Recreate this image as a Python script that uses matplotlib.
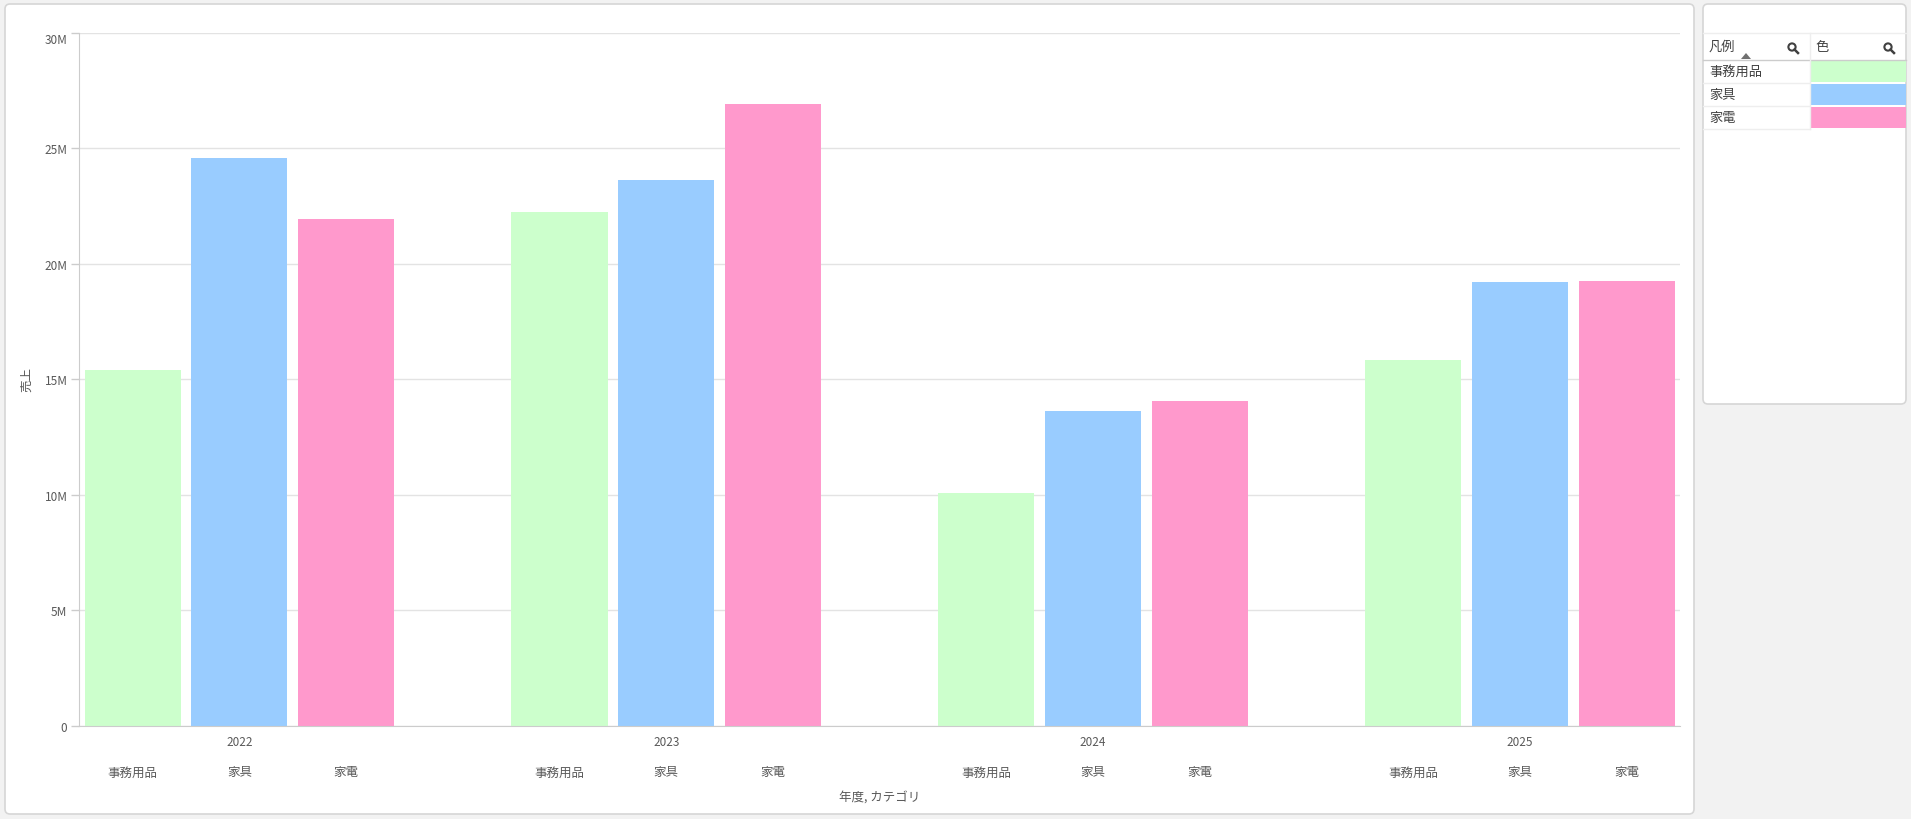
import numpy as np
import matplotlib
matplotlib.use("Agg")
import matplotlib.pyplot as plt
from matplotlib.patches import FancyBboxPatch, Rectangle, Circle, Polygon
from matplotlib.lines import Line2D

plt.rcParams['font.family'] = ['Noto Sans CJK JP', 'DejaVu Sans']

years = ['2022', '2023', '2024', '2025']
categories = ['事務用品', '家具', '家電']
colors = ['#ccffcc', '#99ccff', '#ff99cc']
# 売上 (yen) per year, one list per category
sales = {
    '事務用品': [15.38e6, 22.24e6, 10.09e6, 15.83e6],
    '家具': [24.56e6, 23.61e6, 13.62e6, 19.21e6],
    '家電': [21.93e6, 26.90e6, 14.04e6, 19.24e6],
}
yticks = [0, 5e6, 10e6, 15e6, 20e6, 25e6, 30e6]
ytick_labels = ['0', '5M', '10M', '15M', '20M', '25M', '30M']

W, H = 1911, 820
fig = plt.figure(figsize=(W / 100, H / 100), dpi=100, facecolor='#f2f2f2')


def fx(x):
    return x / W


def fy(y):
    return 1 - y / H


def panel(x0, y0, x1, y1):
    p = FancyBboxPatch((x0, H - y1), x1 - x0, y1 - y0,
                       boxstyle="round,pad=0,rounding_size=5",
                       transform=None, facecolor='white', edgecolor='#d6d6d6',
                       linewidth=1.2, zorder=-5)
    fig.patches.append(p)


panel(5, 5, 1694, 815)
panel(1703, 5, 1906, 405)

ax_l, ax_r, ax_t, ax_b = 79.3, 1680, 33.7, 726.7
ax = fig.add_axes([fx(ax_l), fy(ax_b), fx(ax_r - ax_l), (ax_b - ax_t) / H])
ax.set_facecolor('none')
ax.set_zorder(1)

nslot = len(years) * 4 - 1
for c, cat in enumerate(categories):
    xs = [g * 4 + c + 0.5 for g in range(len(years))]
    ax.bar(xs, sales[cat], width=0.9, color=colors[c], zorder=2)

ax.set_xlim(0, nslot)
ax.set_ylim(0, 30e6)
ax.set_yticks(yticks, ytick_labels)
ax.get_yticklabels()[-1].set_va('top')
ax.grid(axis='y', color='#e3e3e3', linewidth=1, zorder=0)
ax.set_axisbelow(True)
ax.set_xticks([])
for s in ['top', 'right']:
    ax.spines[s].set_visible(False)
ax.spines['left'].set_color('#cccccc')
ax.spines['bottom'].set_color('#cccccc')
ax.tick_params(axis='y', length=5.5, width=1, color='#cccccc', pad=3,
               labelsize=8.5, labelcolor='#595959')

tr = ax.get_xaxis_transform()
hpx = ax_b - ax_t
for g, yr in enumerate(years):
    ax.text(g * 4 + 1.5, -(743 - ax_b) / hpx, yr, transform=tr, clip_on=False,
            ha='center', va='center', fontsize=8.5, color='#595959')
    for c, cat in enumerate(categories):
        ax.text(g * 4 + c + 0.5, -(773 - ax_b) / hpx, cat, transform=tr, clip_on=False,
                ha='center', va='center', fontsize=9, color='#595959')

fig.text(fx((ax_l + ax_r) / 2), fy(797), '年度, カテゴリ', ha='center', va='center',
         fontsize=9, color='#595959')
fig.text(fx(27), fy(380), '売上', rotation=90, ha='center', va='center',
         fontsize=9, color='#595959')

# legend table
lx0, lx1, lmid = 1703, 1906, 1810
fig.add_artist(Line2D([fx(lx0), fx(lx1)], [fy(34.3), fy(34.3)], color='#eeeeee', lw=1))
fig.add_artist(Line2D([fx(lx0), fx(lx1)], [fy(61.3), fy(61.3)], color='#cccccc', lw=1))
fig.add_artist(Line2D([fx(lmid), fx(lmid)], [fy(34.3), fy(130)], color='#eeeeee', lw=1))
fig.text(fx(1709), fy(47), '凡例', ha='left', va='center', fontsize=9.5, color='#404040')
fig.text(fx(1815), fy(47), '色', ha='left', va='center', fontsize=9.5, color='#404040')
fig.patches.append(Polygon([[1741, H - 60], [1751, H - 60], [1746, H - 54]], closed=True,
                           transform=None, facecolor='#707070', edgecolor='none'))
for mx in [1792, 1888]:
    fig.patches.append(Circle((mx, H - 48), 3.6, transform=None, facecolor='none',
                              edgecolor='#404040', linewidth=1.5))
    fig.add_artist(Line2D([mx + 2.5, mx + 6], [H - 50.5, H - 54], transform=None,
                          color='#404040', lw=1.8))

row_top = 61.3
row_h = 23
for i, cat in enumerate(categories):
    y0 = row_top + i * row_h
    y1 = y0 + row_h
    fig.text(fx(1709), fy(y0 + row_h / 2), cat, ha='left', va='center',
             fontsize=9.5, color='#404040')
    fig.patches.append(Rectangle((lmid + 1, H - y1 + 1), lx1 - lmid - 1, row_h - 1.5,
                                 transform=None, facecolor=colors[i], edgecolor='none'))
    fig.add_artist(Line2D([fx(lx0), fx(lmid)], [fy(y1), fy(y1)], color='#eeeeee', lw=1))

fig.savefig('out.png', dpi=100, facecolor=fig.get_facecolor())
